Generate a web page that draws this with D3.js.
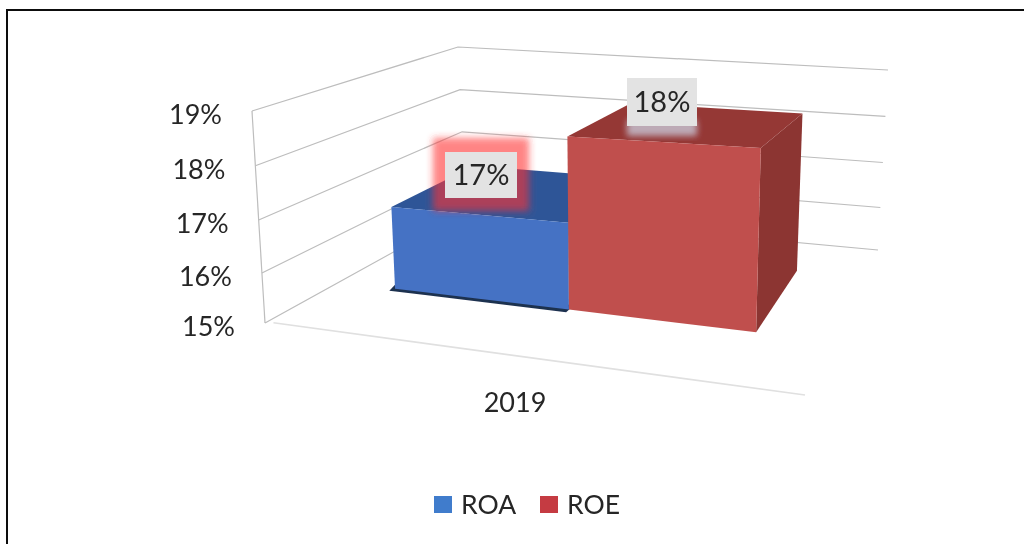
<!DOCTYPE html>
<html><head><meta charset="utf-8">
<script src="https://cdn.jsdelivr.net/npm/d3@7"></script>
<style>html,body{margin:0;padding:0;background:#fff}svg{display:block}text{font-family:Lato,sans-serif;fill:#262626}</style>
</head><body><svg id="c" width="1024" height="544"></svg>
<script>
const categories = ["2019"];
const seriesNames = ["ROA", "ROE"];
const seriesValues = [16.7, 18.3];
const seriesLabels = ["17%", "18%"];
const tickValues = [15, 16, 17, 18, 19];
const tickLabels = ["15%", "16%", "17%", "18%", "19%"];

const svg = d3.select("#c");
const defs = svg.append("defs");
defs.append("filter").attr("id","soft").attr("x","-5%").attr("y","-5%").attr("width","110%").attr("height","110%")
  .append("feGaussianBlur").attr("stdDeviation",0.7);
defs.append("filter").attr("id","glow").attr("x","-30%").attr("y","-30%").attr("width","160%").attr("height","160%")
  .append("feGaussianBlur").attr("stdDeviation",3.5);
defs.append("filter").attr("id","shade").attr("x","-30%").attr("y","-30%").attr("width","160%").attr("height","160%")
  .append("feGaussianBlur").attr("stdDeviation",3);

const root = svg.append("g").attr("filter","url(#soft)");

// 3D box: u along category axis, v into depth, h up the value axis (trilinear between corners)
const corners = {
  fb0:[265,323], ft0:[252,111], bb0:[466,212], bt0:[458,47],
  fb1:[805,395], ft1:[813,135], bb1:[878,250], bt1:[888,70]
};
const mix = (a,b,t)=>[a[0]+(b[0]-a[0])*t, a[1]+(b[1]-a[1])*t];
function project(u,v,h){
  const f0=mix(corners.fb0,corners.ft0,h), f1=mix(corners.fb1,corners.ft1,h),
        b0=mix(corners.bb0,corners.bt0,h), b1=mix(corners.bb1,corners.bt1,h);
  return mix(mix(f0,f1,u),mix(b0,b1,u),v);
}
const hScale = d3.scaleLinear().domain(tickValues).range([0,0.236,0.486,0.742,1]);
// bar edges along the category axis (perspective makes the nearer bar wider)
const uScale = d3.scaleLinear().domain([0,1,2]).range([0.113,0.466,0.846]);
const depthFront = 0.37, depthBack = 0.81;
const line = d3.line();
const poly = pts => line(pts)+"Z";

// frame: top and left rules only
svg.append("path").attr("d",line([[7,544],[7,10],[1024,10]]))
  .attr("fill","none").attr("stroke","#0d0d0d").attr("stroke-width",2);

// gridlines: left wall + back wall
const grid = root.append("g").attr("fill","none").attr("stroke","#bdbdbd").attr("stroke-width",1.2);
tickValues.forEach(t=>{
  const h=hScale(t);
  grid.append("path").attr("d",line([project(0,0,h),project(0,1,h),project(1,1,h)]));
});
grid.append("path").attr("d",line([project(0,0,0),project(0,0,1)]));
root.append("path").attr("d",line([project(0.012,0.01,0),project(1,0,0)]))
  .attr("fill","none").attr("stroke","#e0e0e0").attr("stroke-width",1.6);

// tick labels
root.append("g").selectAll("text").data(tickValues).join("text")
  .attr("x",d=>project(0,0,hScale(d))[0]-30)
  .attr("y",d=>project(0,0,hScale(d))[1]+13)
  .attr("text-anchor","end").attr("font-size",27)
  .text((d,i)=>tickLabels[i]);

// bars
const faceColors = {
  ROA:{front:"#4472c4",top:"#2f5597",side:"#2f5597"},
  ROE:{front:"#c0504d",top:"#953735",side:"#8c3431"}
};
const bars = root.append("g");
seriesNames.forEach((name,i)=>{
  const u0=uScale(i), u1=uScale(i+1), h=hScale(seriesValues[i]);
  const c=faceColors[name];
  if(name==="ROA"){
    bars.append("path").attr("d",poly([
      project(u0-0.012,depthFront+0.035,0),project(u1,depthFront+0.035,0),
      project(u1,depthFront-0.02,0),project(u0-0.004,depthFront-0.02,0)]))
      .attr("fill","#1f3050");
  }
  bars.append("path").attr("d",poly([project(u1,depthFront,0),project(u1,depthBack,0),project(u1,depthBack,h),project(u1,depthFront,h)])).attr("fill",c.side);
  bars.append("path").attr("d",poly([project(u0,depthFront,h),project(u1,depthFront,h),project(u1,depthBack,h),project(u0,depthBack,h)])).attr("fill",c.top);
  bars.append("path").attr("d",poly([project(u0,depthFront,0),project(u1,depthFront,0),project(u1,depthFront,h),project(u0,depthFront,h)])).attr("fill",c.front);
});

// data labels
const lab = root.append("g");
const labelBox = {ROA:[445,152,72,46],ROE:[627,78,70,48]};
seriesNames.forEach((name,i)=>{
  const [x,y,w,hh]=labelBox[name];
  if(name==="ROA"){
    lab.append("rect").attr("x",x-12).attr("y",y-14).attr("width",w+24).attr("height",hh+27)
      .attr("fill","#ff3030").attr("opacity",0.6).attr("filter","url(#glow)");
  } else {
    lab.append("rect").attr("x",x).attr("y",y+hh-6).attr("width",w).attr("height",16)
      .attr("fill","#c8c8d8").attr("opacity",0.8).attr("filter","url(#shade)");
  }
  lab.append("rect").attr("x",x).attr("y",y).attr("width",w).attr("height",hh).attr("fill","#e3e3e3");
  lab.append("text").attr("x",x+w/2).attr("y",y+hh/2+10).attr("text-anchor","middle")
    .attr("font-size",29).text(seriesLabels[i]);
});

// category label
root.append("text").attr("x",515).attr("y",412).attr("text-anchor","middle").attr("font-size",27).text(categories[0]);

// legend
const legendColors = {ROA:"#3f7ccc",ROE:"#c53a42"};
const legendX = {ROA:434,ROE:540};
const legend = root.append("g");
seriesNames.forEach(name=>{
  legend.append("rect").attr("x",legendX[name]).attr("y",496).attr("width",18).attr("height",17).attr("fill",legendColors[name]);
  legend.append("text").attr("x",legendX[name]+27).attr("y",514).attr("font-size",26.5).text(name);
});
</script></body></html>
